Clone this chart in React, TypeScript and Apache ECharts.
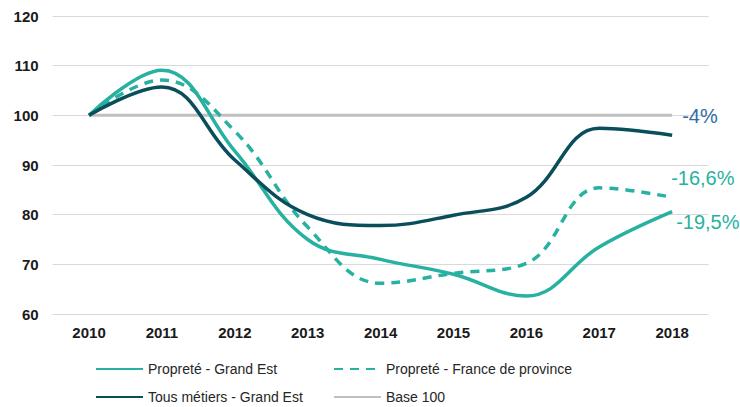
import React, { useEffect, useRef } from "react";
import * as echarts from "echarts";

const years = ["2010", "2011", "2012", "2013", "2014", "2015", "2016", "2017", "2018"];
const proprGrandEst = [100, 109.1, 92.8, 75, 71, 68, 63.6, 73.5, 80.6];
const proprFrance = [100, 107.1, 96.8, 77.5, 66.2, 68.2, 70.2, 85.4, 83.5];
const tousMetiers = [100, 105.7, 91, 80, 77.8, 79.9, 83.5, 97.4, 96];
const base100 = [100, 100, 100, 100, 100, 100, 100, 100, 100];
const yTicks = { min: 60, max: 120, interval: 10 };
const endLabels = { proprGrandEst: "-19,5%", proprFrance: "-16,6%", tousMetiers: "-4%" };

const TEAL = "#27B1A0";
const DARK = "#0A4E5B";
const GREY = "#C0C0C0";
const FONT = "'Liberation Sans', Arial, sans-serif";

export default function App() {
  const ref = useRef<HTMLDivElement>(null);
  useEffect(() => {
    if (!ref.current) return;
    const chart = echarts.init(ref.current, null, { renderer: "svg" });
    const legendCommon = {
      orient: "vertical",
      top: 362,
      padding: 0,
      itemWidth: 47,
      itemHeight: 14,
      itemGap: 14,
      itemStyle: { opacity: 0 },
      textStyle: { fontSize: 14, color: "#262626", fontFamily: FONT },
    };
    chart.setOption({
      animation: false,
      textStyle: { fontFamily: FONT },
      grid: { left: 52.6, right: 31.4, top: 16, bottom: 93 },
      xAxis: {
        type: "category",
        data: years,
        boundaryGap: true,
        axisLine: { show: false },
        axisTick: { show: false },
        axisLabel: { fontWeight: "bold", fontSize: 15, color: "#1a1a1a", margin: 11, fontFamily: FONT },
      },
      yAxis: {
        type: "value",
        min: yTicks.min,
        max: yTicks.max,
        interval: yTicks.interval,
        axisLine: { show: false },
        axisTick: { show: false },
        splitLine: { lineStyle: { color: "#D9D9D9", width: 1 } },
        axisLabel: { fontWeight: "bold", fontSize: 15, color: "#1a1a1a", margin: 14, fontFamily: FONT },
      },
      legend: [
        { ...legendCommon, left: 95, data: ["Propreté - Grand Est", "Tous métiers - Grand Est"] },
        { ...legendCommon, left: 333, data: ["Propreté - France de province", "Base 100"] },
      ],
      series: [
        {
          name: "Base 100",
          type: "line",
          data: base100,
          symbol: "none",
          lineStyle: { color: GREY, width: 3 },
          itemStyle: { color: GREY },
          z: 1,
        },
        {
          name: "Propreté - Grand Est",
          type: "line",
          data: proprGrandEst,
          smooth: 0.4,
          symbol: "none",
          lineStyle: { color: TEAL, width: 3.5 },
          itemStyle: { color: TEAL },
          endLabel: {
            show: true,
            formatter: endLabels.proprGrandEst,
            color: TEAL,
            fontSize: 20,
            fontFamily: FONT,
            offset: [-4, 10],
          },
          z: 3,
        },
        {
          name: "Propreté - France de province",
          type: "line",
          data: proprFrance,
          smooth: 0.4,
          symbol: "none",
          lineStyle: { color: TEAL, width: 3.5, type: [9, 7] },
          itemStyle: { color: TEAL },
          endLabel: {
            show: true,
            formatter: endLabels.proprFrance,
            color: TEAL,
            fontSize: 20,
            fontFamily: FONT,
            offset: [-9, -19],
          },
          z: 3,
        },
        {
          name: "Tous métiers - Grand Est",
          type: "line",
          data: tousMetiers,
          smooth: 0.4,
          symbol: "none",
          lineStyle: { color: DARK, width: 3.5 },
          itemStyle: { color: DARK },
          endLabel: {
            show: true,
            formatter: endLabels.tousMetiers,
            color: "#2F6CA6",
            fontSize: 20,
            fontFamily: FONT,
            offset: [2, -19],
          },
          z: 4,
        },
      ],
    });
    return () => chart.dispose();
  }, []);
  return <div ref={ref} style={{ width: 740, height: 407, position: "absolute", left: 0, top: 0 }} />;
}
